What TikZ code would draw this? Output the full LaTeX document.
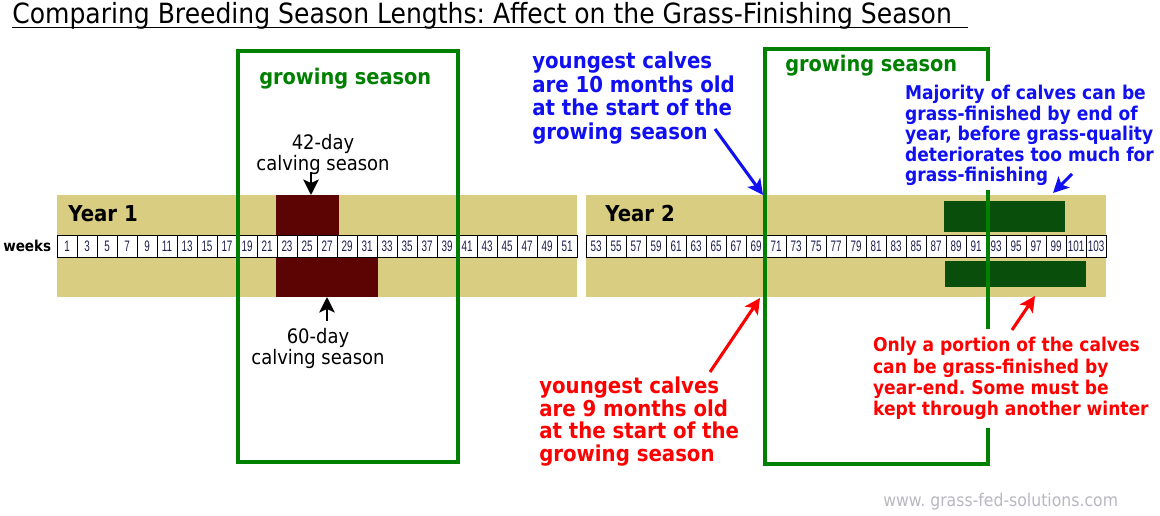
\documentclass[tikz,border=0pt]{standalone}
\usepackage{fontspec}
\setmainfont{DejaVu Sans}[FakeStretch=0.9]
\newfontfamily\weekfont{Liberation Sans}[FakeStretch=0.65]
\usetikzlibrary{arrows.meta,positioning}
\frenchspacing

\definecolor{bandkhaki}{RGB}{216,205,128}
\definecolor{calfred}{RGB}{92,4,4}
\definecolor{finishgreen}{RGB}{10,78,12}
\definecolor{seasongreen}{RGB}{0,128,0}
\definecolor{noteblue}{RGB}{16,16,240}
\definecolor{notered}{RGB}{255,0,0}
\definecolor{webgray}{RGB}{184,184,192}
\definecolor{weeknum}{RGB}{30,30,80}

\tikzset{
  weekcell/.style={draw=black, line width=0.6pt, fill=white, inner sep=0pt,
    minimum width=0.5cm, minimum height=0.55cm, text=weeknum,
    font=\weekfont\fontsize{10.8}{11}\selectfont},
  band/.style={fill=bandkhaki},
  seasonframe/.style={draw=seasongreen, line width=3.5pt},
  seasonlabel/.style={anchor=base west, inner sep=0pt, text=seasongreen,
    font=\bfseries\fontsize{15.3}{17}\selectfont},
  yearlabel/.style={anchor=base west, inner sep=0pt,
    font=\bfseries\fontsize{15.6}{18}\selectfont},
  calvlabel/.style={anchor=north, inner sep=0pt, align=center,
    font=\fontsize{14.2}{14.9}\selectfont},
  bignote/.style={anchor=north west, inner sep=0pt, align=left,
    font=\bfseries\fontsize{15.6}{16.9}\selectfont},
  smallnote/.style={anchor=north west, align=left, fill=white, inner xsep=2pt,
    font=\bfseries\fontsize{13.5}{14.6}\selectfont},
  notearrow/.style={line width=2.2pt, -{Stealth[length=11pt,width=11pt,inset=2.5pt]}},
}

\begin{document}
\begin{tikzpicture}[x=0.025cm, y=-0.025cm]
\useasboundingbox (0,0) rectangle (1160,515);
\fill[white] (0,0) rectangle (1160,515);

% Title
\node[anchor=base west, inner sep=0pt, font=\fontsize{19.8}{22}\selectfont] (title) at (12,23)
  {Comparing Breeding Season Lengths: Affect on the Grass-Finishing Season};
\draw[line width=1.4pt] (12,27.5) -- (968,27.5);

% Year bands
\fill[band] (57,195) rectangle (577,297);
\fill[band] (586,195) rectangle (1106,297);

% Calving seasons
\fill[calfred] (276,195) rectangle (339,235);
\fill[calfred] (276,257) rectangle (378,297);

% Grass-finishing
\fill[finishgreen] (944,201) rectangle (1065,232);
\fill[finishgreen] (945,261) rectangle (1086,287);

% Weeks
\node[anchor=base west, inner sep=0pt, font=\bfseries\fontsize{10.7}{12}\selectfont] (weeks) at (3,251) {weeks};
\foreach \i in {0,...,25}{
  \pgfmathtruncatemacro\wk{2*\i+1}
  \node[weekcell] (wk\wk) at ({67+20*\i},246) {\wk};
  \pgfmathtruncatemacro\wkb{2*\i+53}
  \node[weekcell] (wk\wkb) at ({596+20*\i},246) {\wkb};
}

\node[yearlabel] (yearone) at (68,221) {Year 1};
\node[yearlabel] (yeartwo) at (605,221) {Year 2};

% Growing seasons
\draw[seasonframe] (238,51) rectangle (458,462);
\draw[seasonframe] (765,49) rectangle (988,464);
\node[seasonlabel] (growone) at (259,84) {growing season};
\node[seasonlabel] (growtwo) at (785,71) {growing season};

% Calving labels
\node[calvlabel] (calvshort) at (323,134) {42-day\\calving season};
\node[calvlabel] (calvlong) at (318,328) {60-day\\calving season};
\coordinate (shorttail) at (311,172);
\coordinate (shorttip) at (311,195);
\coordinate (longtail) at (327,321);
\coordinate (longtip) at (327,297);
\draw[notearrow, line width=1.8pt] (shorttail) -- (shorttip);
\draw[notearrow, line width=1.8pt] (longtail) -- (longtip);

% Notes
\node[bignote, text=noteblue] (tenmonths) at (532,51.5)
  {youngest calves\\are 10 months old\\at the start of the\\growing season};
\node[bignote, text=notered, font=\bfseries\fontsize{15.6}{15.9}\selectfont] (ninemonths) at (539,377)
  {youngest calves\\are 9 months old\\at the start of the\\growing season};
\node[smallnote, text=noteblue, inner ysep=2.8pt] (majority) at (902,81)
  {Majority of calves can be\\grass-finished by end of\\year, before grass-quality\\deteriorates too much for\\grass-finishing};
\node[smallnote, text=notered, inner ysep=5.7pt, font=\bfseries\fontsize{13.5}{15.2}\selectfont] (portion) at (870,329)
  {Only a portion of the calves\\can be grass-finished by\\year-end. Some must be\\kept through another winter};

\coordinate (tentail) at (715,129);
\coordinate (tentip) at (763,195);
\coordinate (ninetail) at (710,372);
\coordinate (ninetip) at (760,298);
\coordinate (majtail) at (1072,174);
\coordinate (majtip) at (1053,193);
\coordinate (portail) at (1012,330);
\coordinate (portip) at (1035,296);
\draw[notearrow, noteblue] (tentail) -- (tentip);
\draw[notearrow, notered] (ninetail) -- (ninetip);
\draw[notearrow, noteblue] (majtail) -- (majtip);
\draw[notearrow, notered] (portail) -- (portip);

% Website
\node[anchor=base west, inner sep=0pt, text=webgray, font=\fontsize{12.4}{14}\selectfont] (site) at (883,506)
  {www. grass-fed-solutions.com};
\end{tikzpicture}
\end{document}
